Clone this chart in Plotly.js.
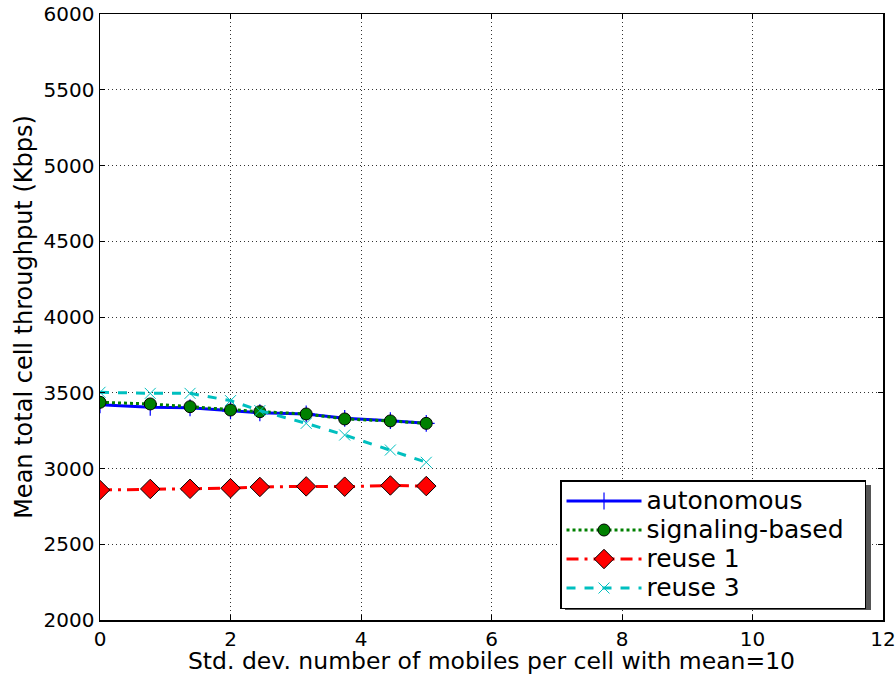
<!DOCTYPE html>
<html>
<head>
<meta charset="utf-8">
<script src="https://cdn.plot.ly/plotly-3.0.1.min.js"></script>
<style>html,body{margin:0;padding:0;background:#fff;}#chart{width:896px;height:675px;}</style>
</head>
<body>
<div id="chart"></div>
<script>
var stdDev = [0, 0.77, 1.38, 2.0, 2.45, 3.16, 3.75, 4.45, 5.0];
var autonomous = [3420, 3404, 3401, 3381, 3368, 3360, 3331, 3316, 3298];
var signalingBased = [3437, 3426, 3408, 3386, 3375, 3360, 3327, 3314, 3298];
var reuse1 = [2858, 2865, 2866, 2870, 2878, 2882, 2880, 2888, 2884];
var reuse3 = [3503, 3496, 3496, 3448, 3382, 3298, 3221, 3122, 3041];
var seriesNames = ["autonomous", "signaling-based", "reuse 1", "reuse 3"];
var xTicks = [0, 2, 4, 6, 8, 10, 12];
var yTicks = [2000, 2500, 3000, 3500, 4000, 4500, 5000, 5500, 6000];

var font = "DejaVu Sans, sans-serif";
function legendName(s) { return '<span style="font-size:25px">' + s + '\u00a0\u00a0</span>'; }
var traces = [
  {x: stdDev, y: autonomous, name: legendName(seriesNames[0]), mode: "lines+markers",
   line: {color: "#0000ff", width: 3},
   marker: {symbol: "cross-thin", size: 12, color: "#0000ff", line: {color: "#0000ff", width: 1.2}}},
  {x: stdDev, y: signalingBased, name: legendName(seriesNames[1]), mode: "lines+markers",
   line: {color: "#008000", width: 3, dash: "dot"},
   marker: {symbol: "circle", size: 12, color: "#008000", line: {color: "#000000", width: 1}}},
  {x: stdDev, y: reuse1, name: legendName(seriesNames[2]), mode: "lines+markers",
   line: {color: "#ff0000", width: 3, dash: "12px,6px,3px,6px"},
   marker: {symbol: "diamond", size: 15, color: "#ff0000", line: {color: "#000000", width: 1}}},
  {x: stdDev, y: reuse3, name: legendName(seriesNames[3]), mode: "lines+markers",
   line: {color: "#00bfbf", width: 3, dash: "dash"},
   marker: {symbol: "x-thin", size: 11, color: "#00bfbf", line: {color: "#00bfbf", width: 1}}}
];

var axisCommon = {
  showline: true, linecolor: "#000", linewidth: 1.5, mirror: "ticks",
  ticks: "inside", ticklen: 5, tickcolor: "#000", tickwidth: 1,
  showgrid: true, gridcolor: "#333", gridwidth: 1, griddash: "1px,3px",
  zeroline: false, tickfont: {family: font, size: 20, color: "#000"}
};

var layout = {
  width: 896, height: 675,
  margin: {l: 100, r: 13, t: 14, b: 55},
  paper_bgcolor: "#fff", plot_bgcolor: "#fff",
  font: {family: font, color: "#000"},
  xaxis: Object.assign({}, axisCommon, {
    range: [0, 12], tickvals: xTicks, ticktext: xTicks.map(String),
    title: {text: "Std. dev. number of mobiles per cell with mean=10", font: {family: font, size: 23.5}, standoff: 12}
  }),
  yaxis: Object.assign({}, axisCommon, {
    range: [2000, 6000], tickvals: yTicks, ticktext: yTicks.map(String),
    title: {text: "Mean total cell throughput (Kbps)", font: {family: font, size: 24}, standoff: 4}
  }),
  showlegend: true,
  legend: {
    x: 0.5875, y: 0.231, xanchor: "left", yanchor: "top",
    bgcolor: "#fff", bordercolor: "#000", borderwidth: 1.5,
    font: {family: font, size: 20, color: "#000"},
    tracegroupgap: 0, itemwidth: 75
  },
  shapes: [{
    type: "rect", xref: "paper", yref: "paper", layer: "above",
    x0: (565 - 100) / 783, x1: (871 - 100) / 783,
    y0: (620 - 610) / 606, y1: (620 - 485) / 606,
    fillcolor: "#555", line: {width: 0}
  }]
};

Plotly.newPlot("chart", traces, layout, {displayModeBar: false, staticPlot: true});
</script>
</body>
</html>
